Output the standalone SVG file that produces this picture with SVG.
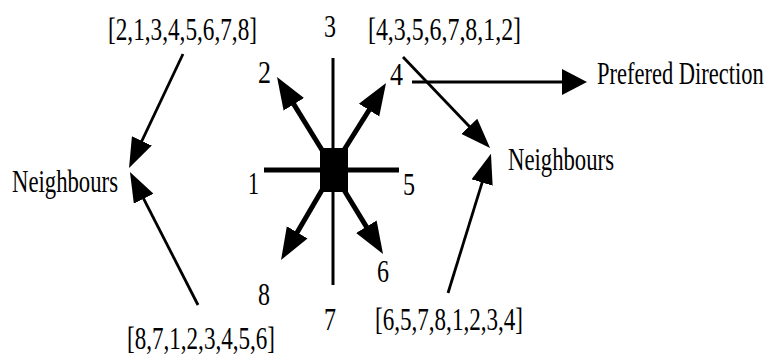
<svg xmlns="http://www.w3.org/2000/svg" width="770" height="360" viewBox="0 0 770 360">
<style>
text{font-family:"Liberation Serif","Times New Roman",serif;font-size:31px;fill:#000}
.thick{stroke:#000;stroke-width:5;fill:none}
.thin{stroke:#000;stroke-width:2.8;fill:none}
.axis{stroke:#000;stroke-width:3;fill:none}
</style>
<defs>
<marker id="hb" markerUnits="userSpaceOnUse" markerWidth="32" markerHeight="26" viewBox="0 0 32 26" refX="21" refY="13" orient="auto"><path d="M0,1 L32,13 L0,25 Z" fill="#000"/></marker>
<marker id="ht" markerUnits="userSpaceOnUse" markerWidth="30" markerHeight="22" viewBox="0 0 30 22" refX="24" refY="11" orient="auto"><path d="M0,0 L30,11 L0,22 Z" fill="#000"/></marker>
<marker id="hp" markerUnits="userSpaceOnUse" markerWidth="25" markerHeight="26" viewBox="0 0 25 26" refX="19" refY="13" orient="auto"><path d="M0,0 L25,13 L0,26 Z" fill="#000"/></marker>
</defs>
<rect width="770" height="360" fill="#fff"/>
<g id="center">
<line class="axis" x1="333" y1="58" x2="333" y2="285"/>
<line class="thick" x1="264" y1="170" x2="399" y2="170"/>
<rect x="320" y="148" width="28" height="44" fill="#000"/>
</g>
<g id="connectors">
<line class="thick" x1="322" y1="150" x2="282.8" y2="86.4" marker-end="url(#hb)"/>
<line class="thick" x1="344" y1="150" x2="380.2" y2="92.3" marker-end="url(#hb)"/>
<line class="thick" x1="322" y1="190" x2="286.6" y2="250.5" marker-end="url(#hb)"/>
<line class="thick" x1="344" y1="190" x2="377.3" y2="244.6" marker-end="url(#hb)"/>
<line class="thin" x1="183" y1="54" x2="131.6" y2="162.6" marker-end="url(#ht)"/>
<line class="thin" x1="198" y1="305" x2="132.7" y2="177.3" marker-end="url(#ht)"/>
<line class="thin" x1="403" y1="57" x2="485.9" y2="143.7" marker-end="url(#ht)"/>
<line class="thin" x1="448" y1="293" x2="489.2" y2="159.6" marker-end="url(#ht)"/>
<line class="axis" x1="412" y1="82" x2="581" y2="82" marker-end="url(#hp)"/>
</g>
<g id="labels">
<text x="324" y="37" textLength="12" lengthAdjust="spacingAndGlyphs">3</text>
<text x="258" y="83" textLength="13" lengthAdjust="spacingAndGlyphs">2</text>
<text x="390" y="85" textLength="13" lengthAdjust="spacingAndGlyphs">4</text>
<text x="248" y="194" textLength="11" lengthAdjust="spacingAndGlyphs">1</text>
<text x="403" y="195" textLength="12" lengthAdjust="spacingAndGlyphs">5</text>
<text x="377" y="282" textLength="12" lengthAdjust="spacingAndGlyphs">6</text>
<text x="324" y="330" textLength="12" lengthAdjust="spacingAndGlyphs">7</text>
<text x="258" y="305" textLength="12" lengthAdjust="spacingAndGlyphs">8</text>
</g>
<g id="list-top-left"><text x="108" y="40" textLength="149" lengthAdjust="spacingAndGlyphs">[2,1,3,4,5,6,7,8]</text></g>
<g id="list-top-right"><text x="368" y="40" textLength="153" lengthAdjust="spacingAndGlyphs">[4,3,5,6,7,8,1,2]</text></g>
<g id="list-bottom-left"><text x="127" y="349" textLength="148" lengthAdjust="spacingAndGlyphs">[8,7,1,2,3,4,5,6]</text></g>
<g id="list-bottom-right"><text x="375" y="330" textLength="148" lengthAdjust="spacingAndGlyphs">[6,5,7,8,1,2,3,4]</text></g>
<g id="neighbours-left"><text x="12" y="192" textLength="106" lengthAdjust="spacingAndGlyphs">Neighbours</text></g>
<g id="neighbours-right"><text x="508" y="170" textLength="106" lengthAdjust="spacingAndGlyphs">Neighbours</text></g>
<g id="preferred"><text transform="translate(597,84) scale(0.726,1)">Prefered Direction</text></g>
</svg>
